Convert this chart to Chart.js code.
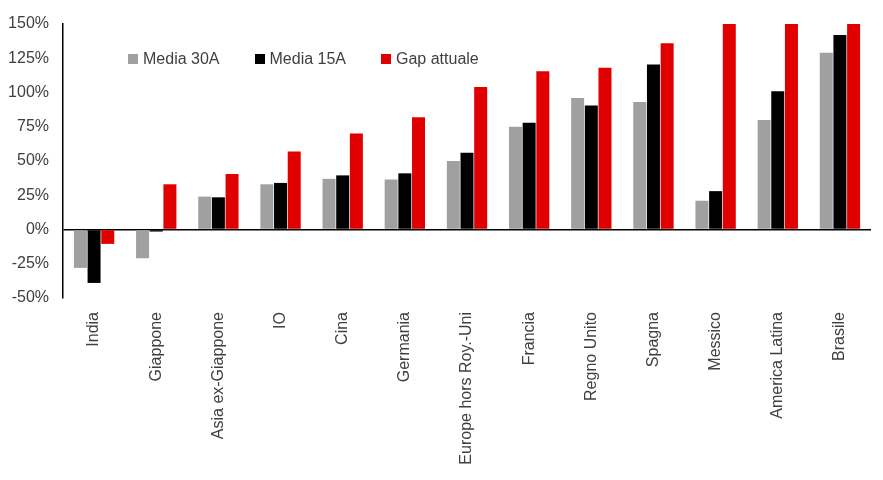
<!DOCTYPE html>
<html>
<head>
<meta charset="utf-8">
<script src="https://cdn.jsdelivr.net/npm/chart.js@4.4.1/dist/chart.umd.min.js"></script>
<style>
    body { margin: 0; background: #fff; }
    #wrap { position: relative; width: 883px; height: 480px; }
    #legend {
        position: absolute; left: 128px; top: 50px;
        display: flex; gap: 35px;
        font-family: "Liberation Sans", Arial, sans-serif; font-size: 16px; color: #404040;
    }
    #legend span.item { display: flex; align-items: center; }
    #legend span.box { display: inline-block; width: 10px; height: 10px; margin-right: 5px; }
</style>
</head>
<body>
<div id="wrap">
    <canvas id="gap-chart" width="883" height="480"></canvas>
    <div id="legend"></div>
</div>
<script>
// Dati
const categories = ['India', 'Giappone', 'Asia ex-Giappone', 'IO', 'Cina', 'Germania',
    'Europe hors Roy.-Uni', 'Francia', 'Regno Unito', 'Spagna', 'Messico', 'America Latina', 'Brasile'];
const media30 = [-28, -21, 24, 33, 37, 36.5, 50, 75, 96, 93, 21, 80, 129];
const media15 = [-39, -1.5, 23.5, 34, 39.5, 41, 56, 78, 90.5, 120.5, 28, 101, 142];
const gapAttuale = [-10.5, 33, 40.5, 57, 70, 82, 104, 115.5, 118, 136, 165, 175, 170];
const yTicks = [-50, -25, 0, 25, 50, 75, 100, 125, 150];

const seriesNames = ['Media 30A', 'Media 15A', 'Gap attuale'];
const seriesColors = ['#A0A0A0', '#000000', '#E00000'];
const font = { family: '"Liberation Sans", Arial, sans-serif', size: 16 };

const dataGap = {
    labels: categories,
    datasets: [media30, media15, gapAttuale].map((values, i) => ({
        label: seriesNames[i],
        data: values,
        backgroundColor: seriesColors[i],
        categoryPercentage: 0.66,
        barPercentage: 0.95
    }))
};

const optionsGap = {
    responsive: false,
    animation: false,
    layout: {
        padding: { left: 5, right: 12, top: 24, bottom: 0 }
    },
    scales: {
        x: {
            grid: { display: false },
            border: { display: false },
            ticks: {
                minRotation: 90,
                maxRotation: 90,
                padding: 6,
                color: '#404040',
                font: font
            },
            afterFit: (scale) => { scale.height = 182; }
        },
        y: {
            min: -50,
            max: 150,
            afterBuildTicks: (scale) => { scale.ticks = yTicks.map(v => ({ value: v })); },
            border: { display: true, color: '#000', width: 1.5 },
            grid: {
                drawTicks: false,
                lineWidth: 1.5,
                color: (ctx) => ctx.tick && ctx.tick.value === 0 ? '#000' : 'rgba(0,0,0,0)'
            },
            ticks: {
                padding: 14,
                color: '#404040',
                font: font,
                callback: (value) => value + '%'
            },
            afterFit: (scale) => { scale.width = 58; }
        }
    },
    plugins: {
        legend: { display: false },
        tooltip: { enabled: false }
    }
};

new Chart(document.querySelector('#gap-chart'), {
    type: 'bar',
    data: dataGap,
    options: optionsGap
});

// Legenda
const legend = document.querySelector('#legend');
seriesNames.forEach((name, i) => {
    const item = document.createElement('span');
    item.className = 'item';
    item.innerHTML = '<span class="box" style="background:' + seriesColors[i] + '"></span>' + name;
    legend.appendChild(item);
});
</script>
</body>
</html>
